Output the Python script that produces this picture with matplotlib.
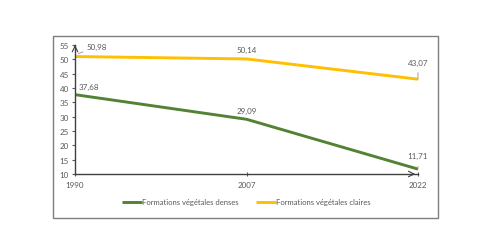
import matplotlib
matplotlib.use("Agg")
import matplotlib.pyplot as plt
from matplotlib.patches import Rectangle

years = ["1990", "2007", "2022"]
denses = [37.68, 29.09, 11.71]
claires = [50.98, 50.14, 43.07]
yticks = [10, 15, 20, 25, 30, 35, 40, 45, 50, 55]

plt.rcParams['font.family'] = ['Lato', 'DejaVu Sans']
fig = plt.figure(figsize=(5, 2.51), dpi=100)
fig.patches.append(Rectangle((53/500, 1-219/251), (438-53)/500, (219-37)/251,
                             transform=fig.transFigure, fill=False, edgecolor='#7f7f7f', lw=1.0))
ax = fig.add_axes([75/500, 1-175/251, (418-75)/500, (175-46)/251])
x = list(range(len(years)))
green = '#548235'
yellow = '#FFC000'
txtc = '#595959'
ax.plot(x, denses, color=green, lw=2.1, label='Formations végétales denses', solid_capstyle='butt')
ax.plot(x, claires, color=yellow, lw=2.1, label='Formations végétales claires', solid_capstyle='butt')
ax.set_xlim(0, 2)
ax.set_ylim(10, 55)
ax.set_xticks(x)
ax.set_xticklabels(years)
ax.set_yticks(yticks)
for s in ['top', 'right']:
    ax.spines[s].set_visible(False)
for s in ['left', 'bottom']:
    ax.spines[s].set_color('#404040')
    ax.spines[s].set_linewidth(1)
ax.tick_params(axis='both', labelsize=5.8, colors=txtc, length=2.5, width=0.8)
ax.tick_params(axis='y', pad=2)
ax.tick_params(axis='x', direction='inout', pad=4)
for t in ax.get_xticklines() + ax.get_yticklines():
    t.set_color('#404040')
# arrows
ax.annotate('', xy=(0, 55), xytext=(0, 53.5), arrowprops=dict(arrowstyle='->', color='#404040', lw=0.8),
            annotation_clip=False)
ax.annotate('', xy=(2, 10), xytext=(1.95, 10), arrowprops=dict(arrowstyle='->', color='#404040', lw=0.8),
            annotation_clip=False)

def fmt(v):
    return f"{v:.2f}".replace('.', ',')

lab = dict(fontsize=5.8, color=txtc, annotation_clip=False)
lead = dict(arrowstyle='-', color='#909090', lw=0.6)
ax.annotate(fmt(claires[0]), xy=(0.02, 52.0), xytext=(0.07, 54.6), ha='left', va='center',
            arrowprops=dict(lead, shrinkA=1, shrinkB=0), **lab)
ax.annotate(fmt(denses[0]), xy=(x[0], denses[0]), xytext=(0.02, 40.5), ha='left', va='center', **lab)
ax.annotate(fmt(claires[1]), xy=(x[1], claires[1]), xytext=(1.0, 53.5), ha='center', va='center', **lab)
ax.annotate(fmt(denses[1]), xy=(x[1], denses[1]), xytext=(1.0, 32.2), ha='center', va='center', **lab)
ax.annotate(fmt(claires[2]), xy=(x[2], claires[2]), xytext=(2.0, 49.0), ha='center', va='center',
            arrowprops=dict(lead, shrinkA=3, shrinkB=0), **lab)
ax.annotate(fmt(denses[2]), xy=(x[2], denses[2]), xytext=(2.0, 16.3), ha='center', va='center',
            arrowprops=dict(lead, shrinkA=3, shrinkB=0), **lab)

leg = fig.legend(loc='center', bbox_to_anchor=(246.5/500, 1-203/251), ncol=2, frameon=False,
                 fontsize=5.5, handlelength=2.6, handletextpad=0.0, columnspacing=2.3)
for t in leg.get_texts():
    t.set_color(txtc)
fig.savefig('out.png', dpi=100)
